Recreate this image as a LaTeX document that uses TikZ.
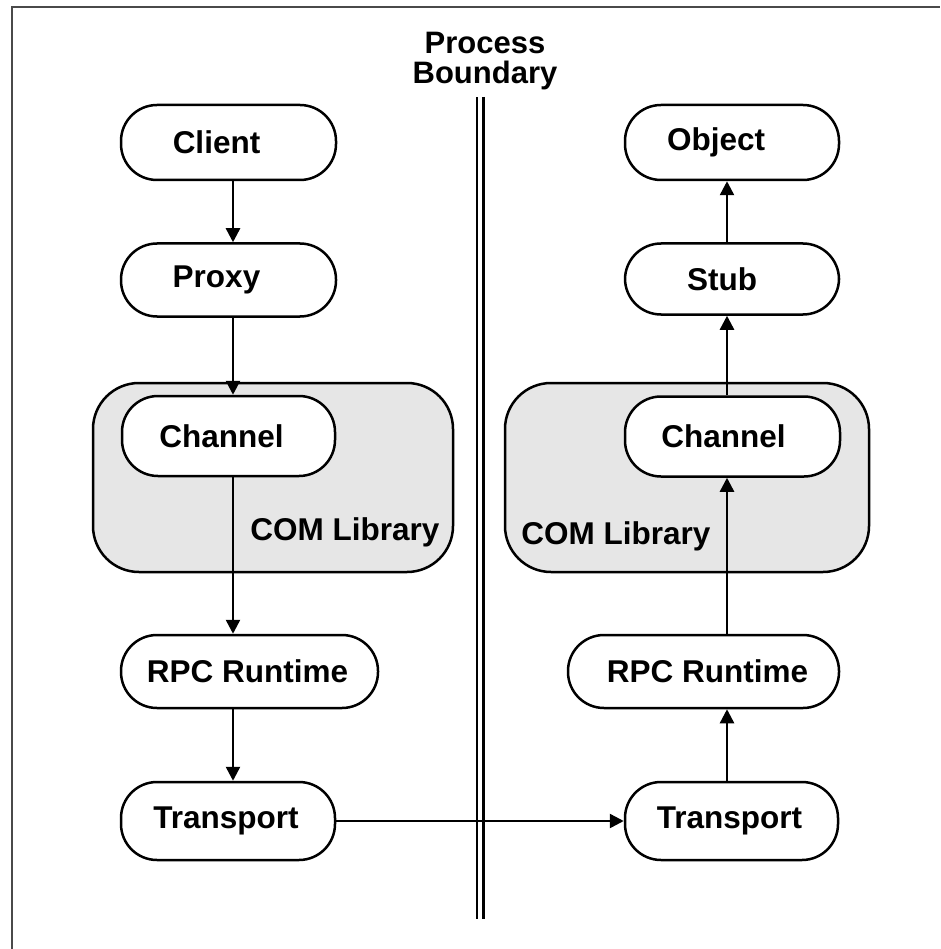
\documentclass[tikz,border=0pt]{standalone}
\usepackage{fontspec}
\setmainfont{Liberation Sans}
\usetikzlibrary{arrows.meta}
\definecolor{comgray}{HTML}{E6E6E6}
\definecolor{framegray}{HTML}{4A4A4A}
\begin{document}
\begin{tikzpicture}[x=1pt,y=-1pt,
  box/.style={draw=black, line width=2.5pt, fill=white, rounded corners=36pt,
    font=\fontsize{31.5}{34}\selectfont\bfseries, inner sep=0pt},
  combox/.style={draw=black, line width=2.5pt, fill=comgray, rounded corners=46pt, inner sep=0pt},
  lbl/.style={font=\fontsize{31.5}{34}\selectfont\bfseries, inner sep=0pt},
  flow/.style={line width=2.5pt, -{Triangle[length=14pt,width=14pt]}},
]
\useasboundingbox (0,0) rectangle (940,949);
% frame
\draw[framegray, line width=2.2pt] (12,949) -- (12,7) -- (940,7);

% COM library boxes
\node[combox, minimum width=360pt, minimum height=189pt] (comL) at (273,477.5) {};
\node[combox, minimum width=364pt, minimum height=189pt] (comR) at (687,477.5) {};
\node[lbl] (comLt) at (345,532) {COM Library};
\node[lbl] (comRt) at (616,536) {COM Library};

% process boundary
\node[font=\fontsize{31}{30}\selectfont\bfseries, align=center, inner sep=0pt] (pb) at (485,61) {Process\\Boundary};
\coordinate (pbtop) at (480,97);
\coordinate (pbbot) at (480,919);
\draw[line width=2.5pt, double=white, double distance=4pt] (pbtop) -- (pbbot);

% left column
\node[box, minimum width=215pt, minimum height=75pt] (client) at (228.5,142.5) {Client\hspace*{24pt}};
\node[box, minimum width=215pt, minimum height=73pt] (proxy) at (228.5,280) {Proxy\hspace*{24pt}};
\node[box, minimum width=213pt, minimum height=80pt] (chanL) at (228.5,436) {Channel\hspace*{14pt}};
\node[box, minimum width=257pt, minimum height=73pt] (rpcL) at (249.5,671.5) {RPC Runtime\hspace*{4pt}};
\node[box, minimum width=214pt, minimum height=78pt] (transL) at (228,821) {Transport\hspace*{4pt}};

% right column
\node[box, minimum width=214pt, minimum height=75pt] (object) at (732,142.5) {Object\hspace*{32pt}};
\node[box, minimum width=214pt, minimum height=71pt] (stub) at (732,279) {Stub\hspace*{20pt}};
\node[box, minimum width=215pt, minimum height=80pt] (chanR) at (732.5,436.5) {Channel\hspace*{18pt}};
\node[box, minimum width=271pt, minimum height=73pt] (rpcR) at (703.5,671.5) {\hspace*{8pt}RPC Runtime};
\node[box, minimum width=213pt, minimum height=78pt] (transR) at (731.5,821) {Transport\hspace*{4pt}};

\coordinate (lx) at (233,0);
\coordinate (rx) at (727,0);

% left arrows
\draw[flow] (client.south -| lx) -- (proxy.north -| lx);
\draw[flow] (proxy.south -| lx) -- (chanL.north -| lx);
\draw[flow] (chanL.south -| lx) -- (rpcL.north -| lx);
\draw[flow] (rpcL.south -| lx) -- (transL.north -| lx);
% cross arrow
\draw[flow] (transL.east) -- (transR.west);
% right arrows
\draw[flow] (transR.north -| rx) -- (rpcR.south -| rx);
\draw[flow] (rpcR.north -| rx) -- (chanR.south -| rx);
\draw[flow] (chanR.north -| rx) -- (stub.south -| rx);
\draw[flow] (stub.north -| rx) -- (object.south -| rx);
\end{tikzpicture}
\end{document}
